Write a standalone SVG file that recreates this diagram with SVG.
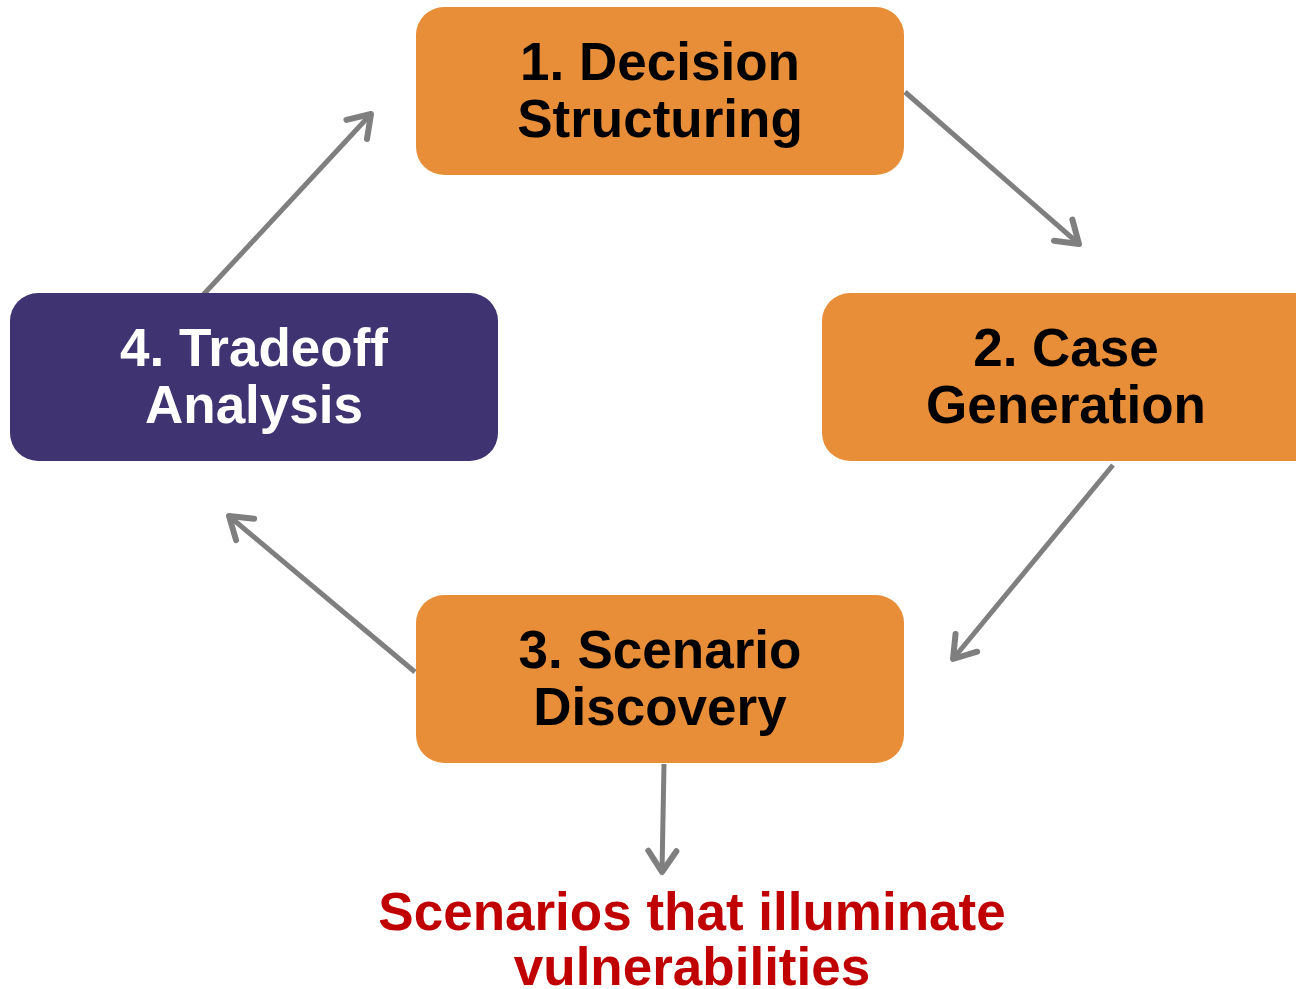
<svg xmlns="http://www.w3.org/2000/svg" width="1296" height="989" viewBox="0 0 1296 989">
<style>
.box-o{fill:#E88E39}
.box-p{fill:#3F3471}
.t{font-family:"Liberation Sans",Arial,sans-serif;font-weight:bold;font-size:53px;text-anchor:middle}
.conn{stroke:#7F7F7F;stroke-width:5;fill:none;marker-end:url(#ah)}
</style>
<defs>
<marker id="ah" markerUnits="userSpaceOnUse" markerWidth="40" markerHeight="40" viewBox="-30 -20 40 40" refX="0" refY="0" orient="auto">
<path d="M-21,-14 L0,0 L-21,14" fill="none" stroke="#7F7F7F" stroke-width="6" stroke-linecap="round" stroke-linejoin="round"/>
</marker>
</defs>
<rect width="1296" height="989" fill="#FFFFFF"/>
<g id="connectors">
<line class="conn" x1="905" y1="92" x2="1079" y2="244"/>
<line class="conn" x1="1113" y1="465" x2="953" y2="659"/>
<line class="conn" x1="415" y1="672" x2="229" y2="516"/>
<line class="conn" x1="203" y1="295" x2="371" y2="114"/>
<line class="conn" x1="664" y1="764" x2="662" y2="872"/>
</g>
<g id="node1">
<rect class="box-o" x="416" y="7" width="488" height="168" rx="28"/>
<text class="t" x="660" y="80" fill="#000">1. Decision</text>
<text class="t" x="660" y="137" fill="#000">Structuring</text>
</g>
<g id="node2">
<rect class="box-o" x="822" y="293" width="500" height="168" rx="28"/>
<text class="t" x="1066" y="366" fill="#000">2. Case</text>
<text class="t" x="1066" y="423" fill="#000">Generation</text>
</g>
<g id="node3">
<rect class="box-o" x="416" y="595" width="488" height="168" rx="28"/>
<text class="t" x="660" y="668" fill="#000">3. Scenario</text>
<text class="t" x="660" y="725" fill="#000">Discovery</text>
</g>
<g id="node4">
<rect class="box-p" x="10" y="293" width="488" height="168" rx="28"/>
<text class="t" x="254" y="366" fill="#FFF">4. Tradeoff</text>
<text class="t" x="254" y="423" fill="#FFF">Analysis</text>
</g>
<g id="outcome">
<text class="t" x="692" y="930" fill="#C00000">Scenarios that illuminate</text>
<text class="t" x="692" y="985" fill="#C00000">vulnerabilities</text>
</g>
</svg>
